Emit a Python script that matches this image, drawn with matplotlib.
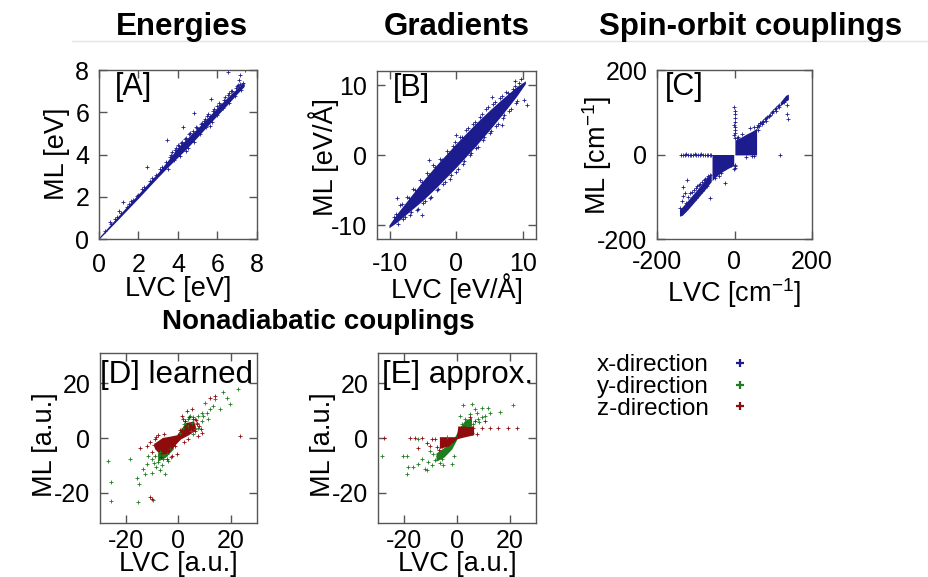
import matplotlib.pyplot as plt
from matplotlib.lines import Line2D

W, H = 929, 577
plt.rcParams['font.family'] = ['Liberation Sans', 'DejaVu Sans']
plt.rcParams['axes.unicode_minus'] = False

BLUE = '#1c1c8e'
GREEN = '#1e7d1e'
RED = '#8e0c0c'
FRAME = '#555555'

# ---- [A] energies (eV): dense core band + scattered points
a_core_lvc = [0.0, 1.0, 2.0, 3.0, 3.5, 4.0, 4.5, 5.0, 5.5, 6.0, 6.5, 7.0, 7.35]
a_core_lo = [0.0, 0.96, 1.94, 2.94, 3.42, 3.88, 4.34, 4.84, 5.36, 5.86, 6.36, 6.88, 7.22]
a_core_hi = [0.08, 1.12, 2.14, 3.16, 3.74, 4.34, 4.8, 5.26, 5.74, 6.24, 6.7, 7.14, 7.42]
a_lvc = [0.3, 0.6, 0.8, 1.1, 1.4, 1.7, 2.0, 2.3, 2.6, 2.9, 3.2, 3.4, 3.6, 3.7, 3.8, 3.9,
         4.0, 4.1, 4.2, 4.3, 4.4, 4.5, 4.6, 4.7, 4.8, 4.9, 5.0, 5.1, 5.2, 5.3, 5.4, 5.5,
         5.6, 5.7, 5.8, 5.9, 6.0, 6.1, 6.2, 6.3, 6.4, 6.5, 6.6, 6.7, 6.8, 6.9, 7.0, 7.1,
         7.2, 7.3, 3.5, 4.4, 5.6, 6.6, 7.25,
         3.65, 3.85, 4.05, 4.15, 4.35, 4.55, 4.75, 4.95, 5.15, 5.35, 5.45, 5.75, 5.95, 6.15,
         6.35, 6.55, 6.75, 6.95, 7.05, 7.15, 1.5, 1.9, 2.2, 2.7, 3.1, 0.9,
         6.55, 7.39, 7.14, 7.09, 5.67, 4.79, 4.27, 3.43, 2.45, 1.64, 1.23, 1.01, 0.56]
a_ml = [0.38, 0.7, 0.95, 1.25, 1.5, 1.85, 2.1, 2.45, 2.75, 3.05, 3.4, 3.65, 3.9, 4.1, 3.75, 4.3,
        4.45, 3.95, 4.6, 4.5, 4.8, 4.3, 5.0, 4.9, 4.6, 5.3, 5.2, 4.95, 5.5, 5.6, 5.3, 5.9,
        5.8, 5.55, 6.15, 6.0, 5.85, 6.45, 6.35, 6.2, 6.7, 6.55, 6.45, 7.0, 6.85, 6.75, 7.25, 7.2,
        7.05, 7.4, 3.3, 4.15, 5.35, 6.9, 7.3,
        4.0, 4.2, 4.4, 4.55, 4.75, 4.95, 5.1, 5.25, 5.45, 5.7, 5.8, 6.05, 6.3, 6.35,
        6.6, 6.8, 7.0, 7.15, 7.3, 7.35, 1.65, 2.05, 2.35, 2.9, 3.3, 1.05,
        7.89, 7.98, 7.76, 7.52, 6.62, 5.98, 5.3, 4.68, 3.42, 1.8, 1.77, 1.34, 0.82]

# ---- [B] gradients (eV/A)
b_core_lvc = [-10.2, -9.0, -7.0, -5.0, -3.0, 0.0, 3.0, 5.0, 7.0, 9.0, 10.4]
b_core_lo = [-10.4, -9.6, -8.0, -6.4, -4.6, -1.7, 1.4, 3.6, 5.9, 8.3, 10.2]
b_core_hi = [-10.0, -8.4, -6.0, -3.6, -1.4, 1.7, 4.6, 6.4, 8.1, 9.7, 10.6]
b_lvc = [-9.5, -8.5, -8.0, -7.5, -7.0, -6.5, -6.0, -5.5, -5.0, -4.5, -4.0, -3.5, -3.0, -2.5,
         -2.0, -1.5, -1.0, -0.5, 0.0, 0.5, 1.0, 1.5, 2.0, 2.5, 3.0, 3.5, 4.0, 4.5, 5.0, 5.5,
         6.0, 6.5, 7.0, 7.5, 8.0, 8.5, 9.0, 9.5, 10.2, 9.8,
         -9.2, -8.8, -8.2, -7.8, -7.2, -6.8, -6.2, -5.8, -5.2, -4.8, -4.2, -3.8, -3.2, -2.8,
         -2.2, -1.8, -1.2, -0.8, -0.2, 0.2, 0.8, 1.2, 1.8, 2.2, 2.8, 3.2, 3.8, 4.2, 4.8, 5.2,
         5.8, 6.2, 6.8, 7.2, 7.8, 8.2, 8.8, 9.2,
         -9.0, -5.2, -4.2, 0.0, 5.3, 8.8, 10.6, 6.8]
b_ml = [-8.8, -7.2, -9.2, -6.0, -8.6, -4.8, -7.9, -3.6, -6.9, -2.5, -6.1, -1.4, -5.0, -0.6,
        -4.1, 0.6, -3.4, 1.3, -2.4, 2.6, -1.3, 3.6, 0.0, 4.4, 1.0, 5.5, 2.1, 6.6, 3.2, 7.3,
        4.2, 8.2, 5.3, 9.0, 6.3, 9.5, 7.5, 10.3, 7.8, 10.9,
        -8.4, -9.8, -7.0, -8.9, -6.1, -8.2, -5.0, -7.7, -3.9, -6.6, -2.8, -6.0, -1.7, -4.9,
        -0.7, -3.9, 0.3, -2.9, 1.9, -2.0, 2.6, -0.9, 3.8, 0.3, 4.7, 1.2, 5.8, 2.6, 6.9, 3.4,
        7.6, 4.5, 8.4, 5.7, 8.9, 6.6, 9.9, 7.7,
        -6.2, -8.5, -0.7, 2.9, 8.3, 10.6, 7.1, 4.3]

# ---- [C] spin-orbit couplings (cm-1)
c_low_lvc = [-142, -135, -120, -105, -90, -75, -60]
c_low_lo = [-146, -144, -130, -114, -98, -82, -64]
c_low_hi = [-130, -124, -108, -92, -76, -60, -44]
c_blk1_lvc = [-58, -45, -30, -15, -2]
c_blk1_lo = [-62, -50, -40, -32, -26]
c_blk1_hi = [0, 0, 0, 0, 0]
c_blk2_lvc = [1, 15, 30, 45, 57]
c_blk2_lo = [-1, -1, -1, -1, -1]
c_blk2_hi = [34, 40, 48, 55, 62]
c_up_lvc = [118, 125, 132, 139]
c_up_lo = [116, 120, 126, 130]
c_up_hi = [124, 132, 140, 143]
c_lvc = [-137, -133, -128, -125, -121, -116, -112, -108, -103, -99, -94, -90, -86, -81, -77,
         -72, -68, -63, -60,
         0, -1, 1, 0, 0, -1, 0, 1, 0, 0, -1, 0, 1, 0, -1,
         -135, -132, -128, -125, -120, -115, -110, -105, -100, -96, -92, -88, -84, -80, -76,
         -72, -68, -64, -63, -24, -132, -123, -118, -100, -85, -70, -140, -110, -75, -90,
         -50, -40, -35, -20, -10,
         57, 60, 63, 67, 70, 74, 78, 80, 84, 88, 92, 96, 100, 104, 108, 112, 116, 60, 70,
         117, 139, 135, 128, 136, 45, 50, 30, 40, 50, 20, 10, 6,
         65, 73, 82, 90, 98, 106, 114]
c_ml = [0, -1, 0, 1, -1, 0, 0, -1, 1, 0, -1, 0, 1, 0, -1,
        0, 0, -1, 0,
        40, 45, 52, 58, 64, 70, 78, 86, 95, 104, 113, -24, -28, -31, -35,
        -110, -98, -90, -115, -100, -92, -88, -85, -80, -74, -72, -70, -66, -60, -58,
        -55, -50, -48, -104, -68, -76, -60, -116, -102, -86, -74, -126, -105, -68, -88,
        -55, -50, -44, -28, -24,
        64, 70, 67, 74, 72, 79, 83, 80, 88, 92, 94, 98, 104, 108, 110, 114, 118, 58, 78,
        0, 83, 97, 124, 118, -4, -3, -5, 62, 66, 48, 42, 38,
        74, 78, 86, 90, 100, 104, 112]

# ---- [D] NACs learned (a.u.)
d_green_lvc = [-27.1, -25.9, -25.8, -18.5, -15.6, -15.0, -16.0, -13.4, -12.2, -10.2, -9.6, -9.0,
               -7.7, -6.4, -5.2, -5.8, -7.1, -4.5, -3.2, -11.5, -12.8, -10.3,
               3.8, 5.0, 6.3, 7.6, 8.9, 10.1, 12.0, 13.3, 14.0, 15.9, 17.1, 18.4, 19.7, 22.9,
               6.3, 5.7, 7.6, 8.9, 11.4, 10.8, 2.5, 4.4, 1.8, 0.6,
               -8.5, -7.0, -6.0, -4.0, -9.5, -3.0, 2.0, 3.5, 5.5, 7.0, 9.5, 4.8]
d_green_ml = [-8.4, -16.0, -22.8, -7.6, -23.2, -16.8, -14.5, -11.2, -9.4, -7.6, -22.6, -6.4,
              -8.8, -10.0, -13.3, -7.6, -5.2, -5.8, -4.0, -6.4, -13.0, -12.6,
              4.4, 5.6, 6.9, 8.1, 9.3, 12.9, 10.5, 11.7, 14.1, 10.5, 16.7, 14.7, 12.3, 17.9,
              3.2, 1.4, 3.8, 6.3, 6.9, 9.3, 6.3, 8.1, 3.8, 2.0,
              -10.5, -11.5, -6.5, -8.5, -9.0, -6.8, 5.0, 7.0, 7.5, 5.5, 8.0, 2.5]
d_green_core_lvc = [-8.0, -5.0, -2.0]
d_green_core_lo = [-8.5, -7.0, -4.0]
d_green_core_hi = [-5.5, -3.5, -1.5]
d_red_lvc = [-14.7, -12.2, -10.9, -10.0, -9.0, -7.7, -6.4, -4.5, -2.6, -0.7, 1.2, 2.5, 4.4,
             6.3, 7.6, 8.6, 12.0, 14.0, 23.5, 5.0, 3.1, 1.8, -11.0, -8.5, 7.0, 9.0,
             -10.0, -9.5, -8.0, -5.5, -3.5, -1.5, 0.5, 2.0, 3.5, 5.5, 6.8, 8.0, -6.5, 4.0]
d_red_ml = [-3.7, -3.0, -21.4, -22.2, -0.4, -2.2, -4.0, -7.6, -6.4, -5.8, 8.1, 6.3, 4.4,
            2.6, 0.8, 3.2, 14.7, 15.3, 0.8, 10.5, 9.9, 6.9, -1.5, 0.5, 5.0, 2.0,
            -5.0, -2.5, 1.0, 1.5, -4.5, -3.0, 3.0, -1.5, -0.5, 7.0, 6.5, 4.5, -7.0, 7.5]
d_red_core_x = [-9.0, -6.0, -3.0, -0.5, 1.0, 3.0, 6.0, 7.0, 4.0, 1.0, -1.0, -4.0, -7.0, -9.0]
d_red_core_y = [-2.0, 0.0, 0.5, 1.0, 3.0, 5.5, 6.0, 3.0, 1.0, -0.5, -2.5, -6.0, -6.0, -4.0]

# ---- [E] NACs approximated (a.u.)
e_green_lvc = [-28.6, -20.4, -19.1, -18.5, -18.9, -16.6, -14.7, -13.4, -12.2, -11.5, -10.9,
               -9.6, -8.4, -7.1, -5.8, -4.6, -3.3, -2.0, -5.2, -10.3, -14.7, -3.9,
               1.1, 2.4, 5.8, 6.8, 9.4, 11.9, 12.5, 16.3, 21.4, 10.6, 8.1, 6.2, 4.3, 3.0,
               1.8, 4.9, 9.4, -9.0, -6.5, -1.0, 7.5, 8.5]
e_green_ml = [-6.6, -6.4, -6.4, -10.6, -13.0, -10.6, -9.4, -7.6, -11.2, -11.8, -8.8,
              -10.0, -8.2, -6.4, -7.6, -5.2, -4.0, -9.4, -10.0, -4.6, -0.4, 0.2,
              8.1, 11.9, 12.5, 10.5, 11.1, 11.1, 9.3, 9.5, 11.9, 8.1, 6.9, 5.0, 4.4, 6.9,
              5.0, 8.7, 7.5, -6.0, -9.0, -6.5, 9.0, 6.0]
e_green_core_lvc = [-8.0, -5.0, -2.0, 1.0, 3.0, 5.5]
e_green_core_lo = [-8.5, -7.0, -4.0, 1.5, 3.5, 4.5]
e_green_core_hi = [-5.5, -3.5, -1.5, 3.8, 6.5, 7.5]
e_red_lvc = [-27.6, -17.8, -16.0, -13.4, -14.7, -9.6, -8.4, -10.3, -7.7, -5.8, -3.3, -1.4,
             4.3, 6.2, 9.4, 12.5, 15.7, 19.5, 22.7, 7.5, 5.6, 10.6, 6.8, 4.9, -11.5, -7.0]
e_red_ml = [-0.1, -0.1, -0.1, -0.1, -3.7, -0.4, -0.4, -2.8, -3.4, -2.8, -2.2, -1.0,
            3.2, 3.8, 3.8, 3.8, 3.8, 3.8, 3.8, 1.4, 2.0, 6.3, 6.3, 7.5, -2.0, -4.5]
e_red_core_x = [-6.5, 0.0, 0.5, 6.5, 6.5, 2.0, 0.0, -3.0, -6.5]
e_red_core_y = [0.3, 0.3, 4.2, 4.2, 1.0, 0.0, -0.5, -3.0, -4.0]

legend_labels = ['x-direction', 'y-direction', 'z-direction']

fig = plt.figure(figsize=(W / 100, H / 100), dpi=100)


def make_axes(left, top, right, bottom):
    return fig.add_axes([left / W, 1 - bottom / H, (right - left) / W, (bottom - top) / H])


def style(ax, lim_x, lim_y, ticks, xpad, ypad):
    ax.set_xlim(lim_x)
    ax.set_ylim(lim_y)
    ax.set_xticks(ticks)
    ax.set_yticks(ticks)
    ax.tick_params(direction='in', length=6, width=1, color=FRAME, top=True, right=True,
                   labelsize=18)
    ax.tick_params(axis='x', pad=xpad)
    ax.tick_params(axis='y', pad=ypad)
    for s in ax.spines.values():
        s.set_color(FRAME)
        s.set_linewidth(1)


def pts(ax, x, y, c):
    ax.plot(x, y, '+', ls='none', ms=3.5, mew=0.6, color=c)


def ftext(x, y, s, **kw):
    fig.text(x / W, 1 - y / H, s, ha='center', va='center', **kw)


# A
axA = make_axes(99, 70, 257, 239)
axA.fill_between(a_core_lvc, a_core_lo, a_core_hi, color=BLUE, lw=0)
pts(axA, a_lvc, a_ml, BLUE)
style(axA, (0, 8), (0, 8), [0, 2, 4, 6, 8], 10, 7)
axA.text(0.1, 0.9, '[A]', transform=axA.transAxes, fontsize=22, va='center')

# B
axB = make_axes(377, 71, 536, 239)
axB.fill_between(b_core_lvc, b_core_lo, b_core_hi, color=BLUE, lw=0)
pts(axB, b_lvc, b_ml, BLUE)
style(axB, (-12, 12), (-12, 12), [-10, 0, 10], 9, 7)
axB.text(0.1, 0.9, '[B]', transform=axB.transAxes, fontsize=22, va='center')

# C
axC = make_axes(657, 70, 812, 239)
axC.fill_between(c_low_lvc, c_low_lo, c_low_hi, color=BLUE, lw=0)
axC.fill_between(c_blk1_lvc, c_blk1_lo, c_blk1_hi, color=BLUE, lw=0)
axC.fill_between(c_blk2_lvc, c_blk2_lo, c_blk2_hi, color=BLUE, lw=0)
axC.fill_between(c_up_lvc, c_up_lo, c_up_hi, color=BLUE, lw=0)
pts(axC, c_lvc, c_ml, BLUE)
style(axC, (-200, 200), (-200, 200), [-200, 0, 200], 8, 7)
axC.text(0.05, 0.9, '[C]', transform=axC.transAxes, fontsize=22, va='center')

# D
axD = make_axes(100, 353, 257, 523)
pts(axD, d_green_lvc, d_green_ml, GREEN)
axD.fill_between(d_green_core_lvc, d_green_core_lo, d_green_core_hi, color=GREEN, lw=0)
pts(axD, d_red_lvc, d_red_ml, RED)
axD.fill(d_red_core_x, d_red_core_y, color=RED, lw=0)
style(axD, (-30, 30), (-31, 31), [-20, 0, 20], 4, 7)
axD.text(0.0, 0.87, '[D] learned', transform=axD.transAxes, fontsize=22.5, va='center')

# E
axE = make_axes(378, 353, 536, 523)
pts(axE, e_green_lvc, e_green_ml, GREEN)
axE.fill_between(e_green_core_lvc, e_green_core_lo, e_green_core_hi, color=GREEN, lw=0)
pts(axE, e_red_lvc, e_red_ml, RED)
axE.fill(e_red_core_x, e_red_core_y, color=RED, lw=0)
style(axE, (-30, 30), (-31, 31), [-20, 0, 20], 4, 7)
axE.text(0.025, 0.87, '[E] approx.', transform=axE.transAxes, fontsize=22.5, va='center')

# axis labels
ftext(57, 154, 'ML [eV]', rotation=90, fontsize=19.5)
ftext(178, 289, 'LVC [eV]', fontsize=19.5)
ftext(324, 157, 'ML [eV/Å]', rotation=90, fontsize=19.5)
ftext(457, 289, 'LVC [eV/Å]', fontsize=19.5)
ftext(597, 155, 'ML [cm$^{\\mathregular{-1}}$]', rotation=90, fontsize=19.5)
ftext(734, 293, 'LVC [cm$^{\\mathregular{-1}}$]', fontsize=19.5)
ftext(45, 445, 'ML [a.u.]', rotation=90, fontsize=19.5)
ftext(178, 564, 'LVC [a.u.]', fontsize=19.5)
ftext(323, 445, 'ML [a.u.]', rotation=90, fontsize=19.5)
ftext(457, 564, 'LVC [a.u.]', fontsize=19.5)

# titles
ftext(182, 27, 'Energies', fontsize=22.5, fontweight='bold')
ftext(457, 27, 'Gradients', fontsize=22.5, fontweight='bold')
ftext(751, 27, 'Spin-orbit couplings', fontsize=22.5, fontweight='bold')
ftext(318, 322, 'Nonadiabatic couplings', fontsize=20, fontweight='bold')
fig.add_artist(Line2D([72 / W, 1.0], [1 - 41 / H, 1 - 41 / H], color='#e4e4e4', lw=1))

handles = [Line2D([], [], ls='none', marker='+', ms=6, mew=1.6, color=c) for c in (BLUE, GREEN, RED)]
fig.legend(handles, legend_labels, loc='center left', bbox_to_anchor=(597 / W, 1 - 387 / H),
           frameon=False, markerfirst=False, fontsize=17.5, labelspacing=-0.02,
           handlelength=0.6, handletextpad=1.0, borderpad=0, borderaxespad=0)

fig.savefig('out.png', dpi=100)
